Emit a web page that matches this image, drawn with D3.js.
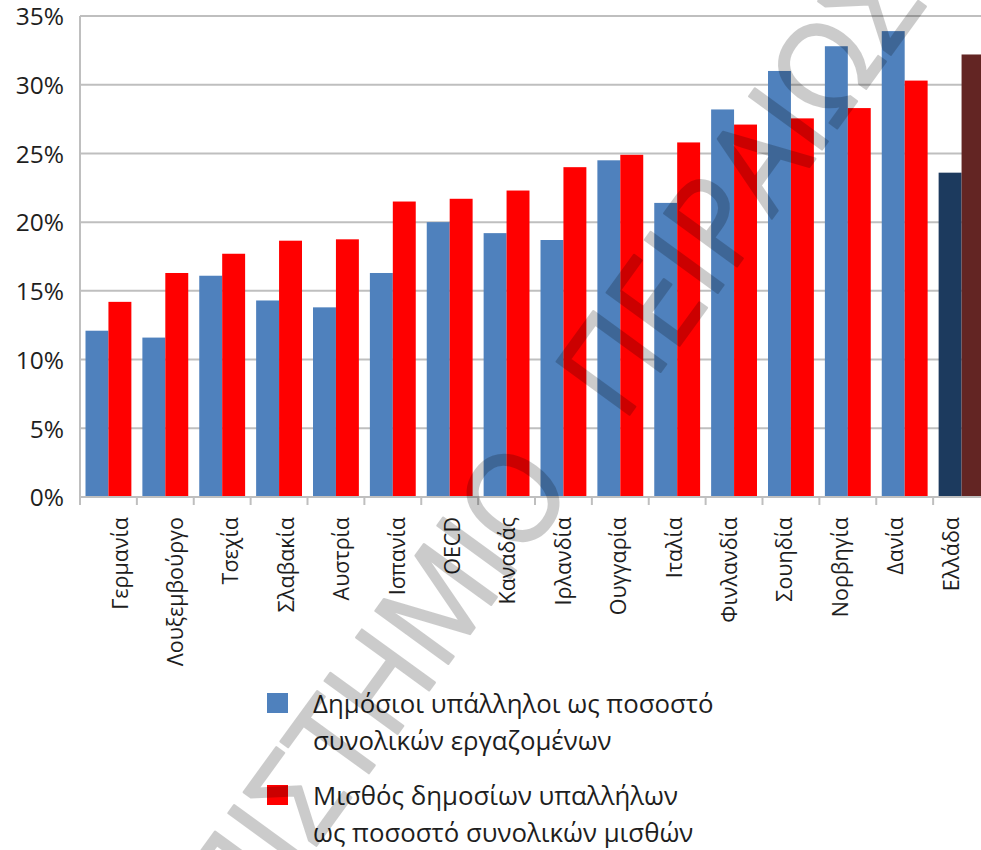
<!DOCTYPE html>
<html>
<head>
<meta charset="utf-8">
<script src="https://cdn.jsdelivr.net/npm/d3@7"></script>
<style>
  html, body { margin: 0; padding: 0; background: #fff; }
  svg { display: block; }
  text { font-family: "Open Sans", "Noto Sans", sans-serif; }
</style>
</head>
<body>
<svg id="chart" width="981" height="850"></svg>
<script>
// Countries, ordered by public-sector wage share
const categories = ["Γερμανία", "Λουξεμβούργο", "Τσεχία", "Σλαβακία", "Αυστρία", "Ισπανία", "OECD",
  "Καναδάς", "Ιρλανδία", "Ουγγαρία", "Ιταλία", "Φινλανδία", "Σουηδία", "Νορβηγία", "Δανία", "Ελλάδα"];

// Public employees as % of total employment
const publicEmployees = [12.1, 11.6, 16.1, 14.3, 13.8, 16.3, 20.0, 19.2, 18.7, 24.5, 21.4, 28.2, 31.0, 32.8, 33.9, 23.6];

// Public employee wages as % of total wages
const publicWages = [14.2, 16.3, 17.7, 18.65, 18.75, 21.5, 21.7, 22.3, 24.0, 24.9, 25.8, 27.1, 27.55, 28.3, 30.3, 32.2];

const yTicks = [0, 5, 10, 15, 20, 25, 30, 35];
const yTickLabels = ["0%", "5%", "10%", "15%", "20%", "25%", "30%", "35%"];

const seriesKeys = ["employees", "wages"];
const legendLabels = [
  ["Δημόσιοι υπάλληλοι ως ποσοστό", "συνολικών εργαζομένων"],
  ["Μισθός δημοσίων υπαλλήλων", "ως ποσοστό συνολικών μισθών"]
];

const watermarkWords = ["ΠΑΝΕΠΙΣΤΗΜΙΟ", "ΠΕΙΡΑΙΩΣ"];

const highlight = "Ελλάδα";
const colors = { employees: "#4f81bd", wages: "#ff0000" };
const highlightColors = { employees: "#1c3a5e", wages: "#632523" };

const svg = d3.select("#chart");
const plot = { left: 80, top: 16, bottom: 497, right: 990 };

const x = d3.scaleBand().domain(categories).range([plot.left, plot.right]).paddingInner(0).paddingOuter(0);
const xSub = d3.scaleBand().domain(seriesKeys).range([0, x.bandwidth()]).paddingInner(0).paddingOuter(0.24);
const y = d3.scaleLinear().domain([0, 35]).range([plot.bottom, plot.top]);
// category labels sit on a slightly narrower spread than the bars
const xLabel = d3.scalePoint().domain(categories).range([plot.left + 40, plot.right - 39]);

// horizontal gridlines
svg.append("g")
  .selectAll("line")
  .data(yTicks.slice(1))
  .join("line")
  .attr("x1", plot.left).attr("x2", plot.right)
  .attr("y1", d => y(d)).attr("y2", d => y(d))
  .attr("stroke", "#bfbfbf").attr("stroke-width", 2);

// y axis labels
const yAxis = d3.axisLeft(y).tickValues(yTicks).tickSize(0).tickPadding(16)
  .tickFormat((d, i) => yTickLabels[i]);
const gy = svg.append("g").attr("transform", `translate(${plot.left},1)`).call(yAxis);
gy.select(".domain").remove();
gy.selectAll("text").attr("font-size", 24.5).attr("fill", "#1e1e1e")
  .attr("font-family", "'Open Sans', sans-serif");

// bars
const rows = categories.map((c, i) => ({ c, employees: publicEmployees[i], wages: publicWages[i] }));
const groups = svg.append("g").selectAll("g")
  .data(rows)
  .join("g")
  .attr("transform", d => `translate(${x(d.c)},0)`);
groups.selectAll("rect")
  .data(d => seriesKeys.map(k => ({ k, v: d[k], c: d.c })))
  .join("rect")
  .attr("x", d => xSub(d.k))
  .attr("width", xSub.bandwidth())
  .attr("y", d => y(d.v))
  .attr("height", d => y(0) - y(d.v))
  .attr("fill", d => d.c === highlight ? highlightColors[d.k] : colors[d.k]);

// axis lines and category tick marks
svg.append("line")
  .attr("x1", plot.left).attr("x2", plot.left)
  .attr("y1", plot.top).attr("y2", plot.bottom + 8)
  .attr("stroke", "#bfbfbf").attr("stroke-width", 2);
svg.append("line")
  .attr("x1", plot.left).attr("x2", plot.right)
  .attr("y1", plot.bottom).attr("y2", plot.bottom)
  .attr("stroke", "#bfbfbf").attr("stroke-width", 2);
svg.append("g").selectAll("line")
  .data(categories.slice(1))
  .join("line")
  .attr("x1", d => x(d)).attr("x2", d => x(d))
  .attr("y1", plot.bottom).attr("y2", plot.bottom + 8)
  .attr("stroke", "#bfbfbf").attr("stroke-width", 2);

// rotated category labels
svg.append("g").selectAll("text")
  .data(categories)
  .join("text")
  .attr("transform", d => `translate(${xLabel(d)},${plot.bottom + 20}) rotate(-90)`)
  .attr("text-anchor", "end")
  .attr("dy", "0.35em")
  .attr("font-size", 21.5)
  .attr("fill", "#1e1e1e")
  .text(d => d);

// legend
const legend = svg.append("g").attr("transform", "translate(267,693)");
const entries = legend.selectAll("g")
  .data(seriesKeys)
  .join("g")
  .attr("transform", (d, i) => `translate(0,${i * 92})`);
entries.append("rect")
  .attr("width", 21).attr("height", 20)
  .attr("fill", d => colors[d]);
entries.each(function (d, i) {
  const t = d3.select(this).append("text")
    .attr("x", 46).attr("y", 20)
    .attr("font-size", 25.8).attr("fill", "#1e1e1e");
  legendLabels[i].forEach((line, j) => {
    t.append("tspan").attr("x", 46).attr("dy", j === 0 ? 0 : 37).text(line);
  });
});

// diagonal watermark, drawn as one translucent layer
const wm = svg.append("g")
  .attr("transform", "translate(586,397) rotate(-54) scale(0.93,1)")
  .attr("opacity", 0.2)
  .attr("fill", "#000").attr("stroke", "#000").attr("stroke-width", 2.5)
  .attr("stroke-linejoin", "round")
  .attr("font-family", "'Liberation Sans', sans-serif")
  .attr("font-size", 126);
wm.append("text").attr("x", -85).attr("text-anchor", "end").attr("dy", "0.36em").text(watermarkWords[0]);
wm.append("text").attr("x", 0).attr("text-anchor", "start").attr("dy", "0.36em").text(watermarkWords[1]);
</script>
</body>
</html>
